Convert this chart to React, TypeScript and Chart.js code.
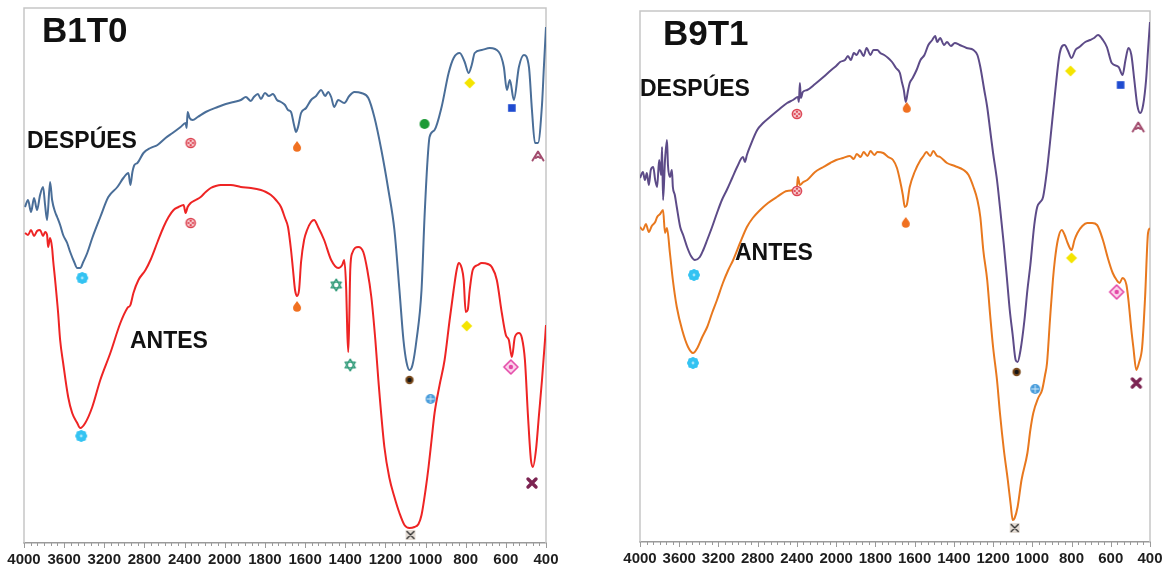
import React, { useEffect, useRef } from "react";
import { Chart, registerables, LinearScale } from "chart.js";

Chart.register(...registerables);

// ---------- axis ----------
const X_TICKS = [4000, 3600, 3200, 2800, 2400, 2000, 1800, 1600, 1400, 1200, 1000, 800, 600, 400];

function toU(w: number) {
  return w >= 2000 ? (4000 - w) / 400 : 5 + (2000 - w) / 200;
}
function fromU(u: number) {
  return u <= 5 ? 4000 - 400 * u : 2000 - 200 * (u - 5);
}

class FtirScale extends (LinearScale as any) {
  static id = "ftir";
  static defaults = (LinearScale as any).defaults;
  buildTicks() {
    return X_TICKS.map((v) => ({ value: v }));
  }
  getPixelForValue(value: number) {
    return this.getPixelForDecimal(toU(value) / 13);
  }
  getValueForPixel(pixel: number) {
    return fromU(this.getDecimalForPixel(pixel) * 13);
  }
}
Chart.register(FtirScale as any);

// ---------- data: [wavenumber cm-1, transmittance (a.u.)] ----------
const B1T0_DESPUES: [number, number][] = [
  [3990,336],[3960,343],[3930,331],[3900,345],[3870,333],[3840,348],[3810,356],[3790,338],[3770,323],[3740,361],
  [3720,343],[3690,331],[3670,326],[3640,318],[3610,308],[3570,300],[3540,291],[3500,281],[3470,275],[3440,275],
  [3410,281],[3370,290],[3320,305],[3240,326],[3160,346],[3070,356],[3010,365],[2960,370],[2940,358],[2920,371],
  [2900,378],[2870,380],[2810,390],[2740,395],[2670,398],[2590,405],[2520,410],[2440,416],[2390,420],[2380,415],
  [2370,431],[2350,425],[2320,423],[2270,426],[2190,431],[2070,436],[1995,439],[1955,441],[1920,443],[1895,446],
  [1870,442],[1855,446],[1835,449],[1820,444],[1800,450],[1780,447],[1760,449],[1740,443],[1720,441],[1700,438],
  [1685,433],[1670,431],[1655,418],[1645,411],[1635,416],[1620,430],[1595,435],[1570,443],[1545,447],[1520,453],
  [1500,447],[1485,451],[1470,446],[1455,436],[1435,443],[1405,440],[1380,447],[1355,451],[1320,450],[1285,445],
  [1255,426],[1220,393],[1185,353],[1155,313],[1130,253],[1110,203],[1095,181],[1080,173],[1065,178],[1045,203],
  [1020,253],[1005,326],[990,383],[980,406],[955,413],[920,436],[885,470],[860,485],[830,490],[805,481],
  [785,470],[770,478],[755,490],[720,493],[680,495],[635,491],[610,476],[595,453],[580,463],[560,443],
  [535,476],[510,488],[485,476],[470,433],[455,400],[440,400],[420,438],[410,478],[400,516],
];

const B1T0_ANTES: [number, number][] = [
  [3990,310],[3960,308],[3930,313],[3900,307],[3870,312],[3840,313],[3810,307],[3790,311],[3770,308],[3760,296],
  [3740,305],[3720,295],[3710,283],[3690,263],[3660,230],[3640,203],[3610,180],[3560,146],[3520,130],[3470,120],
  [3440,115],[3390,120],[3320,136],[3240,163],[3140,190],[3040,220],[2970,235],[2940,238],[2910,250],[2860,263],
  [2790,273],[2740,283],[2670,301],[2610,316],[2560,326],[2510,333],[2460,336],[2410,338],[2390,330],[2370,336],
  [2340,340],[2290,343],[2240,346],[2190,351],[2140,355],[2090,357],[2040,358],[1970,358],[1920,356],[1870,355],
  [1820,353],[1795,351],[1770,348],[1745,343],[1720,336],[1700,325],[1685,316],[1670,293],[1660,273],[1650,253],
  [1640,247],[1630,253],[1620,281],[1605,303],[1590,313],[1570,321],[1555,323],[1535,316],[1505,303],[1470,283],
  [1435,275],[1415,278],[1405,283],[1395,253],[1390,213],[1385,191],[1380,223],[1375,273],[1365,290],[1335,296],
  [1310,291],[1290,273],[1270,246],[1250,203],[1235,163],[1205,96],[1180,65],[1155,46],[1130,30],[1105,18],
  [1080,15],[1055,16],[1035,19],[1020,28],[1000,53],[985,76],[970,103],[955,130],[930,158],[905,183],
  [880,223],[860,253],[845,273],[835,280],[820,275],[810,263],[800,231],[790,233],[780,253],[765,273],
  [740,278],[720,280],[690,279],[670,276],[645,263],[620,230],[600,208],[585,203],[570,186],[555,206],
  [535,210],[520,205],[505,183],[490,128],[475,83],[465,76],[450,93],[435,128],[420,163],[405,203],[400,218],
];

const B9T1_DESPUES: [number, number][] = [
  [4000,364],[3970,370],[3950,362],[3930,369],[3910,357],[3890,372],[3865,375],[3845,362],[3825,355],[3805,382],
  [3785,367],[3775,395],[3765,342],[3745,382],[3725,402],[3715,377],[3695,365],[3675,372],[3665,355],[3645,347],
  [3625,335],[3590,315],[3560,307],[3520,295],[3480,286],[3440,282],[3390,285],[3355,292],[3315,302],[3265,315],
  [3215,329],[3165,342],[3115,352],[3060,364],[3010,375],[2950,385],[2930,380],[2910,387],[2880,395],[2805,412],
  [2745,419],[2675,425],[2590,432],[2500,439],[2440,442],[2390,445],[2380,440],[2370,459],[2360,444],[2340,450],
  [2295,452],[2215,458],[2130,465],[2050,472],[2000,476],[1980,480],[1955,482],[1940,486],[1925,482],[1910,489],
  [1895,487],[1880,492],[1860,486],[1845,494],[1825,487],[1810,492],[1790,492],[1775,489],[1755,487],[1735,484],
  [1715,480],[1695,474],[1675,469],[1665,460],[1655,452],[1645,440],[1635,450],[1625,459],[1610,464],[1590,472],
  [1570,482],[1550,487],[1530,497],[1510,502],[1495,506],[1485,500],[1470,504],[1450,497],[1435,500],[1415,496],
  [1395,499],[1370,497],[1335,494],[1300,492],[1280,487],[1265,475],[1245,452],[1230,435],[1215,412],[1200,389],
  [1180,362],[1165,335],[1145,297],[1130,265],[1115,232],[1100,207],[1085,182],[1075,180],[1060,192],[1040,222],
  [1025,252],[1010,277],[990,317],[975,335],[960,340],[945,345],[925,372],[910,399],[885,447],[860,489],
  [835,497],[820,492],[800,484],[780,492],[760,495],[730,500],[705,502],[685,504],[665,507],[640,502],
  [620,495],[595,479],[560,475],[540,467],[525,482],[510,494],[495,487],[480,462],[465,437],[450,429],
  [435,437],[420,462],[410,492],[400,520],
];

const B9T1_ANTES: [number, number][] = [
  [4000,315],[3970,312],[3940,318],[3910,310],[3880,316],[3845,320],[3825,325],[3795,328],[3765,332],[3745,309],
  [3725,314],[3695,289],[3665,262],[3625,235],[3570,212],[3510,195],[3460,189],[3410,195],[3370,204],[3315,215],
  [3265,229],[3215,242],[3155,259],[3100,272],[3050,282],[2980,299],[2910,315],[2850,324],[2775,332],[2695,339],
  [2605,345],[2500,351],[2400,355],[2390,365],[2370,357],[2335,360],[2295,362],[2215,370],[2130,375],[2060,379],
  [2000,382],[1965,384],[1930,386],[1910,383],[1895,388],[1875,385],[1860,390],[1840,386],[1825,391],[1805,387],
  [1790,390],[1760,389],[1735,385],[1710,382],[1690,374],[1675,362],[1660,347],[1650,335],[1640,337],[1625,355],
  [1600,370],[1570,382],[1555,386],[1540,390],[1520,386],[1505,391],[1485,386],[1470,385],[1435,379],[1395,376],
  [1350,372],[1325,367],[1300,355],[1280,342],[1265,325],[1250,292],[1230,262],[1215,227],[1200,195],[1180,162],
  [1165,129],[1145,92],[1125,62],[1110,37],[1100,22],[1090,24],[1075,35],[1055,62],[1025,89],[1010,112],
  [995,129],[970,144],[950,152],[935,167],[925,179],[910,222],[895,262],[885,282],[870,302],[850,312],
  [835,307],[820,299],[800,292],[785,302],[770,309],[745,316],[720,319],[695,319],[670,317],[640,302],
  [615,284],[590,269],[570,262],[555,259],[540,264],[520,257],[510,242],[495,212],[485,195],[470,172],
  [455,180],[440,195],[425,245],[410,309],[400,314],
];

// ---------- band markers ----------
const B1T0_DESPUES_MARK_W = [3420, 2340, 1640, 1005, 780, 570, 440];
const B1T0_DESPUES_MARK_T = [265, 400, 397, 419, 460, 435, 387];
const B1T0_DESPUES_MARK_BAND = ["A", "B", "C", "E", "H", "I", "K"];

const B1T0_ANTES_MARK_W = [3430, 2340, 1640, 1445, 1375, 1080, 975, 795, 575, 470, 1075];
const B1T0_ANTES_MARK_T = [107, 320, 237, 258, 178, 163, 144, 217, 176, 60, 8];
const B1T0_ANTES_MARK_BAND = ["A", "B", "C", "D", "D", "F", "G", "H", "J", "L", "M"];

const B9T1_DESPUES_MARK_W = [3450, 2400, 1640, 805, 550, 460];
const B9T1_DESPUES_MARK_T = [267, 428, 435, 471, 457, 415];
const B9T1_DESPUES_MARK_BAND = ["A", "B", "C", "H", "I", "K"];

const B9T1_ANTES_MARK_W = [3460, 2400, 1645, 1080, 985, 800, 570, 470, 1090];
const B9T1_ANTES_MARK_T = [179, 351, 320, 170, 153, 284, 250, 159, 14];
const B9T1_ANTES_MARK_BAND = ["A", "B", "C", "F", "G", "H", "J", "L", "M"];

// ---------- marker glyphs ----------
function makeGlyph(band: string): HTMLCanvasElement {
  const c = document.createElement("canvas");
  c.width = 18;
  c.height = 18;
  const g = c.getContext("2d")!;
  g.translate(9, 9);
  g.lineCap = "round";
  g.lineJoin = "round";
  const circle = (x: number, y: number, r: number) => {
    g.beginPath();
    g.arc(x, y, r, 0, Math.PI * 2);
  };
  switch (band) {
    case "A": {
      g.fillStyle = "#34c3f2";
      for (let i = 0; i < 8; i++) {
        const a = (i * Math.PI) / 4;
        circle(Math.cos(a) * 3.8, Math.sin(a) * 3.8, 2.2);
        g.fill();
      }
      circle(0, 0, 4);
      g.fill();
      g.fillStyle = "#a6e6fb";
      circle(0, 0, 1.4);
      g.fill();
      break;
    }
    case "B": {
      g.fillStyle = "#f6c6ca";
      circle(0, 0, 4.6);
      g.fill();
      g.strokeStyle = "#dc4452";
      g.lineWidth = 1.5;
      circle(0, 0, 4.6);
      g.stroke();
      g.fillStyle = "#dc4452";
      for (const [x, y] of [[0, -2.2], [0, 2.2], [-2.2, 0], [2.2, 0]]) {
        circle(x, y, 1.1);
        g.fill();
      }
      break;
    }
    case "C": {
      g.fillStyle = "#f07020";
      g.beginPath();
      g.moveTo(0, -5);
      g.bezierCurveTo(1.5, -2.5, 4, -0.5, 4, 1.8);
      g.arc(0, 1.8, 4, 0, Math.PI);
      g.bezierCurveTo(-4, -0.5, -1.5, -2.5, 0, -5);
      g.fill();
      break;
    }
    case "D": {
      g.strokeStyle = "#2f9a78";
      g.lineWidth = 1.4;
      for (const off of [-Math.PI / 2, Math.PI / 2]) {
        g.beginPath();
        for (let i = 0; i < 3; i++) {
          const a = off + (i * 2 * Math.PI) / 3;
          const x = Math.cos(a) * 5.8;
          const y = Math.sin(a) * 5.8;
          if (i === 0) g.moveTo(x, y);
          else g.lineTo(x, y);
        }
        g.closePath();
        g.stroke();
      }
      break;
    }
    case "E": {
      g.fillStyle = "#1c9a36";
      circle(0, 0, 5);
      g.fill();
      break;
    }
    case "F": {
      g.fillStyle = "#7a4a1c";
      circle(0, 0, 4.2);
      g.fill();
      g.fillStyle = "#161616";
      circle(0, 0, 2.2);
      g.fill();
      break;
    }
    case "G": {
      g.fillStyle = "#4a9ddb";
      circle(0, 0, 5);
      g.fill();
      g.strokeStyle = "#d4ebfa";
      g.lineWidth = 1;
      g.beginPath();
      g.moveTo(-3.5, 0);
      g.lineTo(3.5, 0);
      g.moveTo(0, -3.5);
      g.lineTo(0, 3.5);
      g.stroke();
      break;
    }
    case "H": {
      g.fillStyle = "#f4e400";
      g.beginPath();
      g.moveTo(0, -5.5);
      g.lineTo(5.5, 0);
      g.lineTo(0, 5.5);
      g.lineTo(-5.5, 0);
      g.closePath();
      g.fill();
      break;
    }
    case "I": {
      g.fillStyle = "#1f4bd0";
      g.fillRect(-3.8, -3.8, 7.6, 7.6);
      break;
    }
    case "J": {
      g.fillStyle = "#fbd3ea";
      g.strokeStyle = "#e448a8";
      g.lineWidth = 1.6;
      g.beginPath();
      g.moveTo(0, -7);
      g.lineTo(7, 0);
      g.lineTo(0, 7);
      g.lineTo(-7, 0);
      g.closePath();
      g.fill();
      g.stroke();
      g.fillStyle = "#e448a8";
      circle(0, 0, 2.2);
      g.fill();
      break;
    }
    case "K": {
      g.strokeStyle = "#a24c6e";
      g.lineWidth = 2;
      g.beginPath();
      g.moveTo(-5.5, 4.5);
      g.lineTo(0, -4.5);
      g.lineTo(5.5, 4.5);
      g.moveTo(-2.2, 2);
      g.lineTo(0, 0.5);
      g.lineTo(2.2, 2);
      g.stroke();
      break;
    }
    case "L": {
      g.strokeStyle = "#7c2452";
      g.lineWidth = 3.4;
      g.beginPath();
      g.moveTo(-4, -4);
      g.lineTo(4, 4);
      g.moveTo(-4, 4);
      g.lineTo(4, -4);
      g.stroke();
      break;
    }
    case "M": {
      g.fillStyle = "#e6ded6";
      g.fillRect(-5, -5, 10, 10);
      g.strokeStyle = "#2a2a2a";
      g.lineWidth = 1.3;
      g.beginPath();
      g.moveTo(-3.5, -3.5);
      g.lineTo(3.5, 3.5);
      g.moveTo(-3.5, 3.5);
      g.lineTo(3.5, -3.5);
      g.stroke();
      break;
    }
  }
  return c;
}

type Label = { text: string; x: number; y: number; size: number };

interface PanelProps {
  left: number;
  width: number;
  padding: { left: number; top: number; right: number; bottom: number };
  yMax: number;
  despues: [number, number][];
  antes: [number, number][];
  colD: string;
  colA: string;
  dW: number[];
  dT: number[];
  dB: string[];
  aW: number[];
  aT: number[];
  aB: string[];
  labels: Label[];
}

const FONT = '"Liberation Sans", Arial, Helvetica, sans-serif';
const CANVAS_H = 566;

function FtirPanel(p: PanelProps) {
  const ref = useRef<HTMLCanvasElement>(null);
  useEffect(() => {
    const canvas = ref.current!;
    const glyphs: Record<string, HTMLCanvasElement> = {};
    for (const b of ["A", "B", "C", "D", "E", "F", "G", "H", "I", "J", "K", "L", "M"]) glyphs[b] = makeGlyph(b);

    const decor = {
      id: "decor",
      beforeDatasetsDraw(chart: any) {
        const { ctx, chartArea: a } = chart;
        ctx.save();
        ctx.strokeStyle = "#c6c6c6";
        ctx.lineWidth = 1.5;
        ctx.beginPath();
        ctx.moveTo(a.left, a.bottom);
        ctx.lineTo(a.left, a.top);
        ctx.lineTo(a.right, a.top);
        ctx.lineTo(a.right, a.bottom);
        ctx.stroke();
        // major + minor tick marks
        const xs = chart.scales.x;
        ctx.strokeStyle = "#9a9a9a";
        ctx.lineWidth = 1;
        ctx.beginPath();
        for (let k = 0; k <= 78; k++) {
          const len = k % 6 === 0 ? 5 : 3;
          const px = Math.round(xs.getPixelForValue(fromU(k / 6))) + 0.5;
          ctx.moveTo(px, a.bottom);
          ctx.lineTo(px, a.bottom + len);
        }
        ctx.stroke();
        ctx.restore();
      },
      afterDatasetsDraw(chart: any) {
        const { ctx } = chart;
        ctx.save();
        ctx.fillStyle = "#111";
        ctx.textBaseline = "alphabetic";
        ctx.textAlign = "left";
        for (const l of p.labels) {
          ctx.font = `bold ${l.size}px ${FONT}`;
          ctx.fillText(l.text, l.x, l.y);
        }
        ctx.restore();
      },
    };

    const markSet = (w: number[], t: number[], b: string[], name: string) => ({
      label: name,
      data: w.map((x, i) => ({ x, y: t[i] })),
      showLine: false,
      pointRadius: 6,
      pointStyle: (ctx: any) => glyphs[b[ctx.dataIndex]] || "circle",
      clip: false as any,
    });

    const lineSet = (d: [number, number][], name: string, color: string) => ({
      label: name,
      data: d.map(([x, y]) => ({ x, y })),
      showLine: true,
      borderColor: color,
      borderWidth: 2,
      pointRadius: 0,
      cubicInterpolationMode: "monotone",
    });

    const chart = new Chart(canvas, {
      type: "scatter",
      data: {
        datasets: [
          markSet(p.dW, p.dT, p.dB, "bandas DESPÚES"),
          markSet(p.aW, p.aT, p.aB, "bandas ANTES"),
          lineSet(p.despues, "DESPÚES", p.colD),
          lineSet(p.antes, "ANTES", p.colA),
        ],
      } as any,
      options: {
        responsive: false,
        animation: false,
        events: [],
        layout: { padding: p.padding },
        plugins: { legend: { display: false }, tooltip: { enabled: false } },
        scales: {
          x: {
            type: "ftir" as any,
            min: 400,
            max: 4000,
            ticks: {
              autoSkip: false,
              maxRotation: 0,
              padding: 0,
              color: "#1e1e1e",
              font: { family: FONT, size: 15, weight: "bold", lineHeight: 10 / 15 },
              callback: (v: any) => String(v),
            },
            grid: {
              display: true,
              drawOnChartArea: false,
              drawTicks: true,
              tickLength: 12,
              tickColor: "rgba(0,0,0,0)",
              color: "rgba(0,0,0,0)",
              lineWidth: 1,
            },
            border: { display: true, color: "#9a9a9a", width: 1.5 },
          },
          y: { type: "linear", display: false, min: 0, max: p.yMax },
        },
      } as any,
      plugins: [decor],
    });
    return () => chart.destroy();
  }, []);
  return (
    <canvas
      ref={ref}
      width={p.width}
      height={CANVAS_H}
      style={{ position: "absolute", left: p.left, top: 0, width: p.width, height: CANVAS_H, display: "block" }}
    />
  );
}

export default function App() {
  return (
    <div style={{ position: "fixed", left: 0, top: 0, width: 1167, height: 566, background: "#fff", overflow: "hidden" }}>
      <FtirPanel
        left={0}
        width={560}
        padding={{ left: 24, top: 8, right: 14, bottom: 1 }}
        yMax={535}
        despues={B1T0_DESPUES}
        antes={B1T0_ANTES}
        colD="#4a6e98"
        colA="#ee2424"
        dW={B1T0_DESPUES_MARK_W}
        dT={B1T0_DESPUES_MARK_T}
        dB={B1T0_DESPUES_MARK_BAND}
        aW={B1T0_ANTES_MARK_W}
        aT={B1T0_ANTES_MARK_T}
        aB={B1T0_ANTES_MARK_BAND}
        labels={[
          { text: "B1T0", x: 42, y: 42, size: 35 },
          { text: "DESPÚES", x: 27, y: 148, size: 23 },
          { text: "ANTES", x: 130, y: 348, size: 23 },
        ]}
      />
      <FtirPanel
        left={600}
        width={567}
        padding={{ left: 40, top: 11, right: 17, bottom: 2 }}
        yMax={531}
        despues={B9T1_DESPUES}
        antes={B9T1_ANTES}
        colD="#5d4b88"
        colA="#e8781e"
        dW={B9T1_DESPUES_MARK_W}
        dT={B9T1_DESPUES_MARK_T}
        dB={B9T1_DESPUES_MARK_BAND}
        aW={B9T1_ANTES_MARK_W}
        aT={B9T1_ANTES_MARK_T}
        aB={B9T1_ANTES_MARK_BAND}
        labels={[
          { text: "B9T1", x: 63, y: 45, size: 35 },
          { text: "DESPÚES", x: 40, y: 96, size: 23 },
          { text: "ANTES", x: 135, y: 260, size: 23 },
        ]}
      />
    </div>
  );
}
